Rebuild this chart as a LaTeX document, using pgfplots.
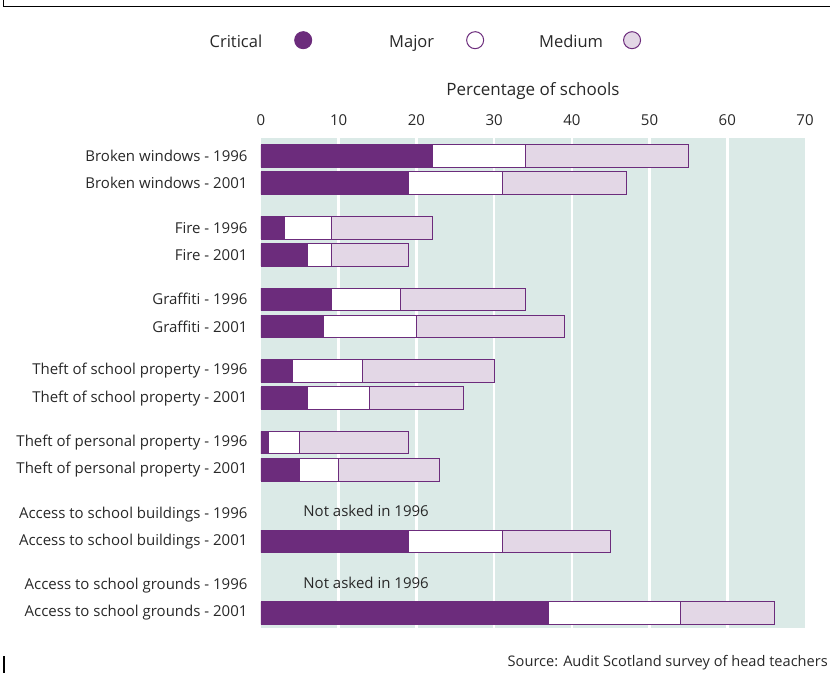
\documentclass[border=0pt]{standalone}
\usepackage{fontspec}
\setmainfont{Open Sans}
\usepackage{pgfplots}
\pgfplotsset{compat=1.18}
\usepackage{pgfplotstable}
\definecolor{crit}{RGB}{108,44,124}
\definecolor{med}{RGB}{227,215,230}
\definecolor{bgteal}{RGB}{219,234,231}
\definecolor{txt}{RGB}{40,40,40}

\pgfplotstableread{
y crit major med
156.0 22 12 21
183.1 19 12 16
227.7 3 6 13
254.8 6 3 10
299.3 9 9 16
326.4 8 12 19
371.0 4 9 17
398.1 6 8 12
442.6 1 4 14
469.7 5 5 13
541.4 19 12 14
613.0 37 17 12
}\data

\begin{document}
\begin{tikzpicture}
\useasboundingbox (0pt,0pt) rectangle (830pt,-675pt);
\draw[line width=1pt] (3pt,0pt) -- (3pt,-6pt) -- (830pt,-6pt);
\draw[line width=2pt] (4pt,-656pt) -- (4pt,-673pt);
\begin{axis}[
  at={(261pt,-628pt)}, anchor=south west,
  scale only axis, width=544pt, height=490pt,
  xmin=0, xmax=70, ymin=138, ymax=628, y dir=reverse,
  xbar stacked, bar width=22.5pt,
  axis line style={draw=none},
  major tick length=0pt,
  axis background/.style={fill=bgteal},
  xtick={0,10,...,70},
  xticklabel pos=upper,
  extra x ticks={10,20,...,60},
  extra x tick labels={},
  extra x tick style={grid=major, major grid style={white, line width=2.5pt}},
  /pgf/number format/assume math mode=true,
  every tick label/.append style={font=\fontsize{15}{18}\selectfont, text=txt},
  xticklabel style={anchor=base, yshift=12.5pt},
  ytick={156.0,183.1,227.7,254.8,299.3,326.4,371.0,398.1,442.6,469.7,514.3,541.4,585.9,613.0},
  yticklabels={Broken windows - 1996, Broken windows - 2001, Fire - 1996, Fire - 2001,
    Graffiti - 1996, Graffiti - 2001, Theft of school property - 1996, Theft of school property - 2001,
    Theft of personal property - 1996, Theft of personal property - 2001,
    Access to school buildings - 1996, Access to school buildings - 2001,
    Access to school grounds - 1996, Access to school grounds - 2001},
  yticklabel style={anchor=east, xshift=-10pt},
  xlabel={Percentage of schools},
  xlabel style={at={(axis description cs:0.5,1)}, anchor=center, yshift=47pt,
    font=\fontsize{17}{20}\selectfont, text=txt},
  legend columns=3,
  legend plot pos=right,
  legend image code/.code={\draw[#1, line width=1pt] (0pt,1.6pt) circle (8.5pt);},
  legend style={at={(axis description cs:-0.1039,1.198)}, anchor=west,
    draw=none, fill=none, font=\fontsize{16.5}{19}\selectfont, text=txt,
    /tikz/column 1/.style={column sep=30pt},
    /tikz/column 2/.style={column sep=75pt},
    /tikz/column 3/.style={column sep=30pt},
    /tikz/column 4/.style={column sep=53pt},
    /tikz/column 5/.style={column sep=18pt}},
]
\addplot[fill=crit, draw=crit, line width=0.8pt] table[x=crit, y=y] {\data};
\addplot[fill=white, draw=crit, line width=0.8pt] table[x=major, y=y] {\data};
\addplot[fill=med, draw=crit, line width=0.8pt] table[x=med, y=y] {\data};
\legend{Critical, Major, Medium}
\node[anchor=west, font=\fontsize{15}{18}\selectfont, text=txt] at (axis cs:5.0,511) {Not asked in 1996};
\node[anchor=west, font=\fontsize{15}{18}\selectfont, text=txt] at (axis cs:5.0,583) {Not asked in 1996};
\end{axis}
\node[anchor=east, inner sep=0pt, font=\fontsize{14.6}{17}\selectfont, text=txt] at (828pt,-663pt) {Source: Audit Scotland survey of head teachers};
\end{tikzpicture}
\end{document}
